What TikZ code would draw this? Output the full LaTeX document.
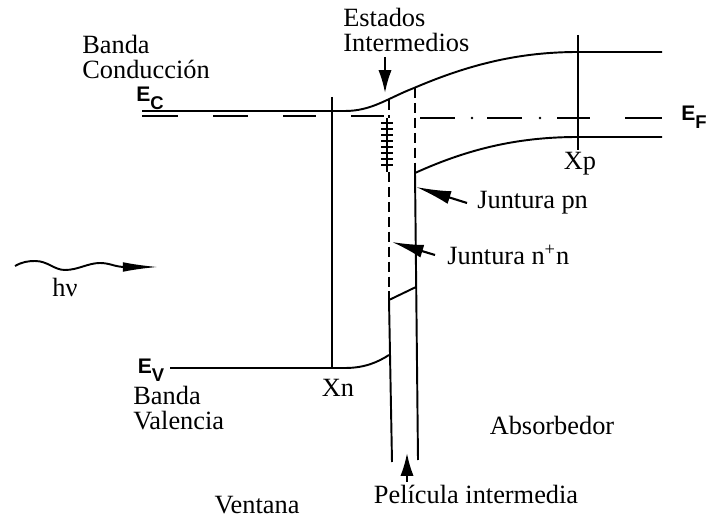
\documentclass[tikz,border=0pt]{standalone}
\usepackage{fontspec}
\setmainfont{Liberation Serif}
\newfontfamily\bandfont{Liberation Sans}
\usepackage{tikz}
\usetikzlibrary{arrows.meta}
\newcommand{\bandsym}[2]{{\bandfont\bfseries\fontsize{12}{12}\selectfont #1\raisebox{-4.5pt}{\fontsize{10.5}{10.5}\selectfont #2}}}
\tikzset{
  band/.style={line width=1.1pt},
  txt/.style={font=\fontsize{15}{14.6}\selectfont,inner sep=0pt},
  pointer/.style={line width=1.2pt,-{Latex[length=#1,width=7.5pt]}},
  pointer/.default=13pt,
  gap/.style={band,dash pattern=on 5.7pt off 2.8pt},
}

\begin{document}
\begin{tikzpicture}[x=0.2mm,y=-0.2mm]
  \useasboundingbox (0,0) rectangle (710,518);
  % bands
  \draw[band] (142,111)--(345,111) .. controls (372,111) and (388,98) .. (414,88) .. controls (470,64) and (520,52) .. (578,52)--(662,52);
  \draw[band] (170,368)--(345,368) .. controls (365,368) and (378,362) .. (389,355);
  \draw[band] (389,300)--(416,287);
  \draw[band] (415,173) .. controls (470,148) and (520,137) .. (578,137)--(662,137);
  % Fermi level
  \foreach \xa/\xb in {142/178,213/248,283/316,351/384}{\draw[band] (\xa,116)--(\xb,116);}
  \foreach \xa/\xb in {420/455,487/522,557/590,625/662}{\draw[band] (\xa,118)--(\xb,118);}
  \foreach \xx in {472,540}{\fill (\xx,118) circle (1.3);}
  % Xn, Xp
  \draw[band] (332,97)--(332,368);
  \draw[band] (578,35)--(578,150);
  % film edges
  \draw[gap] (389,100)--(389,118);
  \draw[gap] (389,172)--(389,300);
  \draw[band] (389,300)--(392,462);
  \draw[gap] (415,88)--(415,173);
  \draw[band] (415,173)--(418,460);
  % intermediate states
  \draw[line width=0.9pt] (387,118)--(387,172);
  \foreach \yy in {123,129,...,165}{\draw[line width=1pt] (381,\yy)--(393,\yy);}

  \node (ec) at (150,98) {\bandsym{E}{C}};
  \node (ef) at (694,117) {\bandsym{E}{F}};
  \node (ev) at (151,370) {\bandsym{E}{V}};

  \node[txt,anchor=west,align=left] (bcond) at (82,57) {Banda\\Conducción};
  \node[txt,anchor=west,align=left] (bval) at (133,408) {Banda\\Valencia};
  \node[txt,anchor=west,align=left] (estados) at (343,30) {Estados\\Intermedios};
  \node[txt] (hv) at (65,287) {hν};
  \node[txt] (xn) at (338,388) {Xn};
  \node[txt] (xp) at (580,164) {Xp};
  \node[txt,anchor=west] (jpn) at (477,203) {Juntura pn};
  \node[txt,anchor=west] (jnn) at (447,255) {Juntura n\textsuperscript{+}n};
  \node[txt] (abs) at (552,425) {Absorbedor};
  \node[txt] (pel) at (476,494) {Película intermedia};
  \node[txt] (vent) at (257,505) {Ventana};

  % pointers
  \coordinate (estail) at (385,57);  \coordinate (estip) at (385,93);
  \coordinate (pntail) at (467,203); \coordinate (pntip) at (416,187);
  \coordinate (nntail) at (435,255); \coordinate (nntip) at (392,242);
  \coordinate (peltail) at (407,482); \coordinate (peltip) at (407,453);
  \coordinate (hvstart) at (15,266); \coordinate (hvtip) at (158,267);
  \draw[pointer] (estail)--(estip);
  \draw[pointer=20pt] (pntail)--(pntip);
  \draw[pointer=18pt] (nntail)--(nntip);
  \draw[pointer=13pt] (peltail)--(peltip);
  \draw[band,-{Latex[length=20pt,width=5.5pt]}] (hvstart) .. controls (22,262) and (28,261) .. (35,261) .. controls (48,261) and (54,270) .. (65,270) .. controls (78,270) and (88,263) .. (100,263) .. controls (110,263) and (115,267) .. (125,267)--(hvtip);
\end{tikzpicture}
\end{document}
